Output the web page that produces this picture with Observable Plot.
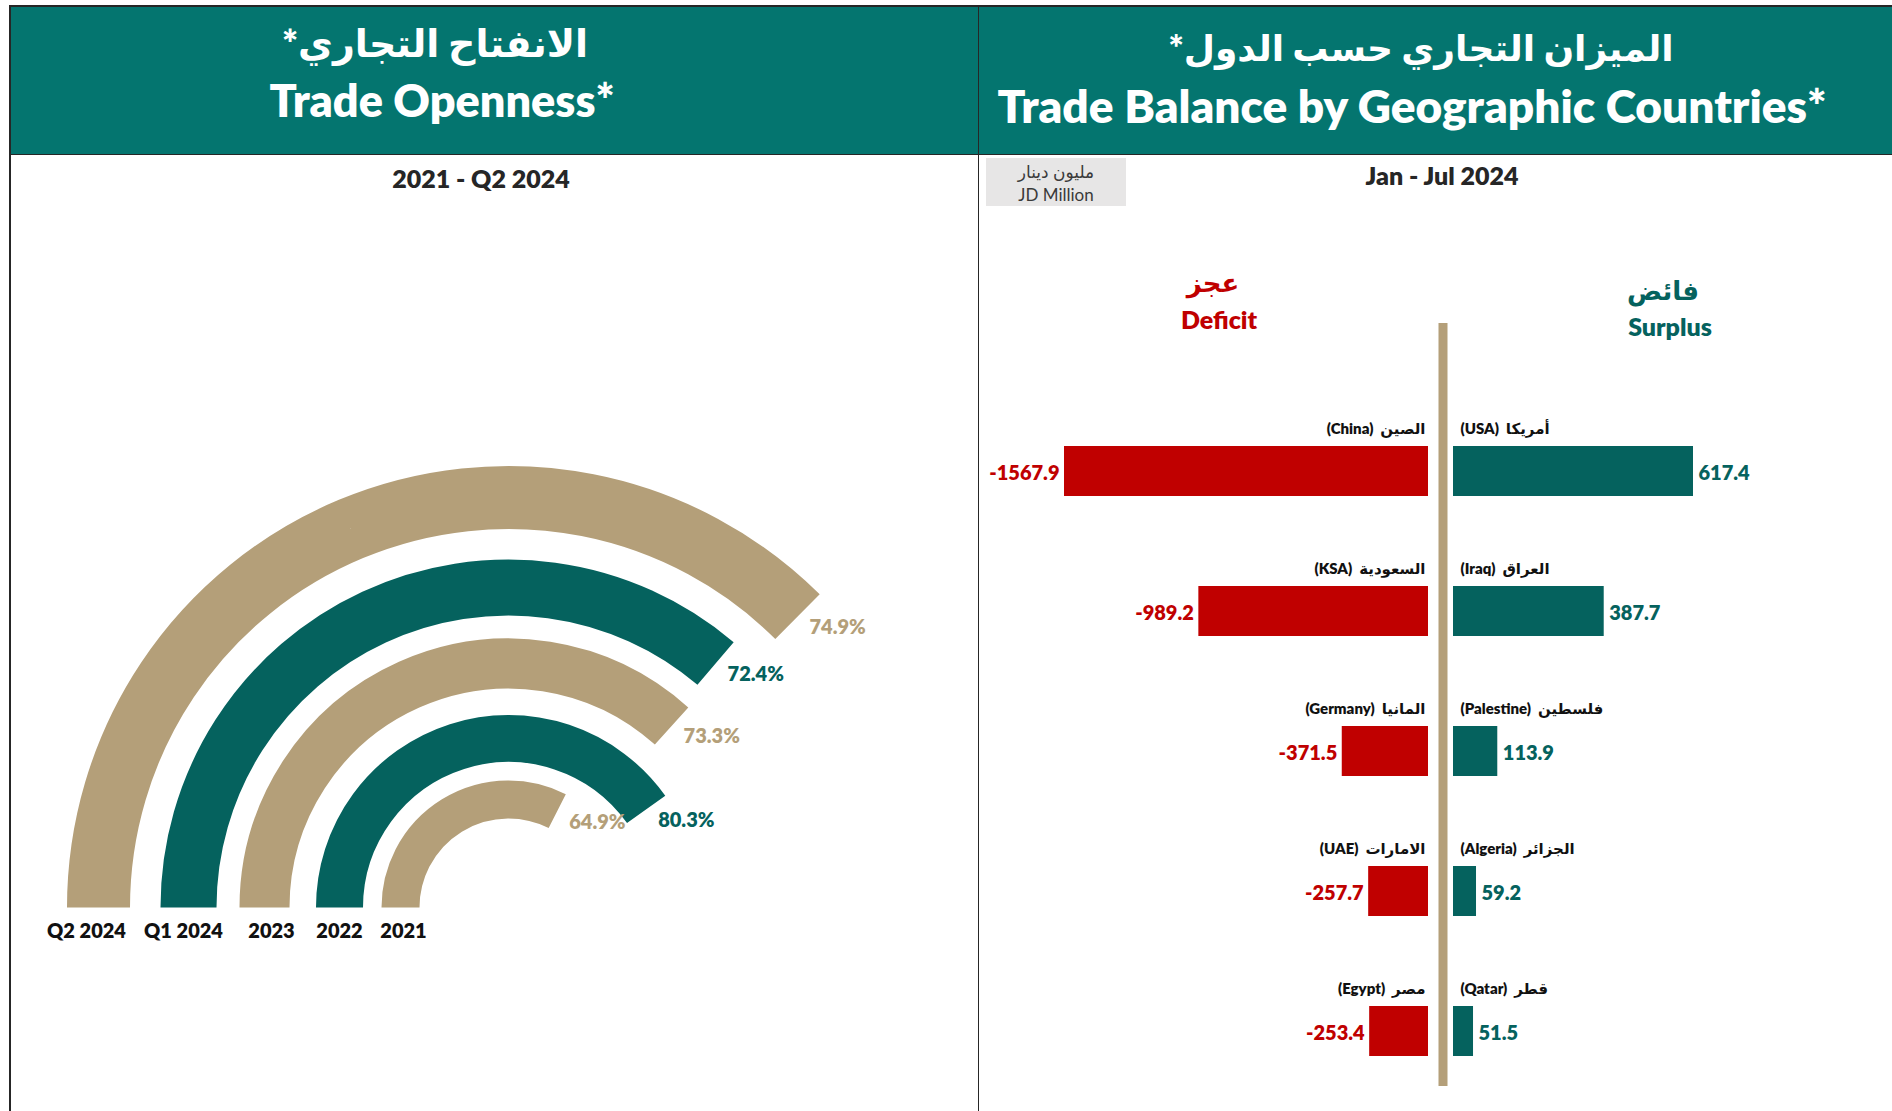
<!DOCTYPE html>
<html>
<head>
<meta charset="utf-8">
<script src="https://cdn.jsdelivr.net/npm/d3@7"></script>
<script src="https://cdn.jsdelivr.net/npm/@observablehq/plot@0.6"></script>
<style>
  html, body { margin: 0; padding: 0; background: #fff; }
  #page { position: relative; width: 1892px; height: 1111px; overflow: hidden; font-family: Lato, "DejaVu Sans", sans-serif; }
  .abs { position: absolute; }
  .line { position: absolute; background: #262626; }
  .t { position: absolute; white-space: nowrap; line-height: 1; transform: translate(-50%, -50%); font-weight: 800; }
  .plotbox { position: absolute; }
</style>
</head>
<body>
<div id="page">
  <div class="abs" style="left:10px;top:6px;width:1882px;height:148px;background:#04756F;"></div>
  <div class="line" style="left:9px;top:5px;width:1883px;height:1.5px;"></div>
  <div class="line" style="left:9px;top:5px;width:1.5px;height:1106px;"></div>
  <div class="line" style="left:9px;top:153.5px;width:1883px;height:1.5px;"></div>
  <div class="line" style="left:977.5px;top:5px;width:1.5px;height:1106px;"></div>

  <div class="t" dir="rtl" style="left:435px;top:42px;font-size:38px;color:#fff;">الانفتاح التجاري*</div>
  <div class="t" style="left:442px;top:100px;font-size:45px;color:#fff;">Trade Openness*</div>
  <div class="t" dir="rtl" style="left:1421px;top:47px;font-size:36px;color:#fff;">الميزان التجاري حسب الدول*</div>
  <div class="t" style="left:1412px;top:106px;font-size:46px;color:#fff;">Trade Balance by Geographic Countries*</div>

  <div class="t" style="left:481px;top:178px;font-size:25px;color:#262626;">2021 - Q2 2024</div>
  <div class="t" style="left:1442px;top:175px;font-size:25px;color:#262626;">Jan - Jul 2024</div>

  <div class="abs" style="left:986px;top:158px;width:140px;height:48px;background:#E7E6E6;"></div>
  <div class="t" dir="rtl" style="left:1056px;top:171px;font-size:17px;font-weight:normal;color:#3a3a3a;">مليون دينار</div>
  <div class="t" style="left:1056px;top:194px;font-size:17px;font-weight:normal;color:#3a3a3a;">JD Million</div>

  <div class="t" dir="rtl" style="left:1213px;top:282px;font-size:26px;color:#C00000;">عجز</div>
  <div class="t" style="left:1219px;top:319px;font-size:25px;color:#C00000;">Deficit</div>
  <div class="t" dir="rtl" style="left:1663px;top:290px;font-size:26px;color:#05625E;">فائض</div>
  <div class="t" style="left:1670px;top:326px;font-size:25px;color:#05625E;">Surplus</div>

  <div id="arcs" class="plotbox" style="left:10px;top:160px;"></div>
  <div id="deficit" class="plotbox" style="left:980px;top:300px;"></div>
  <div id="surplus" class="plotbox" style="left:1430px;top:300px;"></div>
</div>
<script>
// ---------- Data ----------
const periods = ["Q2 2024", "Q1 2024", "2023", "2022", "2021"];
const openness = [74.9, 72.4, 73.3, 80.3, 64.9];

const deficitCountries = ["China", "KSA", "Germany", "UAE", "Egypt"];
const deficitArabic = ["الصين", "السعودية", "المانيا", "الامارات", "مصر"];
const deficitValues = [-1567.9, -989.2, -371.5, -257.7, -253.4];

const surplusCountries = ["USA", "Iraq", "Palestine", "Algeria", "Qatar"];
const surplusArabic = ["أمريكا", "العراق", "فلسطين", "الجزائر", "قطر"];
const surplusValues = [617.4, 387.7, 113.9, 59.2, 51.5];

// ---------- Styles / layout ----------
const TAN = "#B49F79", TEAL = "#05625E", RED = "#C00000";
const FONT = "Lato, 'DejaVu Sans', sans-serif";
const BOLD = 800;
const ringRadius = [410, 320, 244, 169, 108];   // px, layout only
const ringWidth = [63, 56, 50, 47, 38];         // px, layout only
const labelShift = [-12, -5, 7, 0, 3];          // px, layout only
const ringColor = i => (i % 2 === 0 ? TAN : TEAL);

// ---------- Trade openness (radial arcs) ----------
const angle = d3.scaleLinear([0, 100], [0, 180]); // % of a half circle
const rows = periods.map((p, i) => {
  const sweep = angle(openness[i]);
  const a = (sweep - 90) * Math.PI / 180;
  const r = ringRadius[i];
  return {period: p, value: openness[i], i, sweep, r, w: ringWidth[i],
          ex: r * Math.sin(a), ey: r * Math.cos(a)};
});

const arcMarks = rows.map(d => Plot.arrow([d], {
  x1: v => -v.r, y1: () => 0, x2: "ex", y2: "ey",
  bend: d.sweep / 2, headLength: 0,
  stroke: ringColor(d.i), strokeWidth: d.w, strokeLinecap: "butt", strokeOpacity: 1
}));

const arcs = Plot.plot({
  width: 960, height: 860, margin: 0,
  x: {domain: [-498, 462], axis: null},
  y: {domain: [-113, 747], axis: null},
  style: {fontFamily: FONT, background: "transparent", overflow: "visible"},
  marks: [
    ...arcMarks,
    Plot.text(rows.filter(d => d.i % 2 === 0), {x: "ex", y: "ey", text: d => d.value.toFixed(1) + "%",
      textAnchor: "start", dx: 12, dy: 11, fill: TAN, fontSize: 20, fontWeight: BOLD}),
    Plot.text(rows.filter(d => d.i % 2 === 1), {x: "ex", y: "ey", text: d => d.value.toFixed(1) + "%",
      textAnchor: "start", dx: 12, dy: 11, fill: TEAL, fontSize: 20, fontWeight: BOLD}),
    ...rows.map(d => Plot.text([d], {x: v => -v.r, y: () => 0, text: "period", dy: 24, dx: labelShift[d.i],
      fill: "#111", fontSize: 20, fontWeight: BOLD}))
  ]
});
document.getElementById("arcs").appendChild(arcs);

// ---------- Trade balance ----------
const deficitRows = deficitCountries.map((c, i) => ({name: c, label: `(${c})  ${deficitArabic[i]}`, value: deficitValues[i]}));
const surplusRows = surplusCountries.map((c, i) => ({name: c, label: `(${c})  ${surplusArabic[i]}`, value: surplusValues[i]}));

const yDef = {type: "band", range: [146, 756], paddingInner: 0.643, paddingOuter: 0, axis: null};

const deficit = Plot.plot({
  width: 462, height: 800, marginTop: 23, marginBottom: 14, marginLeft: 0, marginRight: 0,
  x: {domain: [d3.min(deficitValues), 0], range: [84, 448], axis: null},
  y: {...yDef, domain: deficitCountries},
  style: {fontFamily: FONT, background: "transparent", overflow: "visible"},
  marks: [
    Plot.barX(deficitRows, {x1: () => 0, x2: "value", y: "name", fill: RED}),
    Plot.text(deficitRows, {x: "value", y: "name", text: d => d.value.toFixed(1), textAnchor: "end",
      dx: -5, dy: 2, fill: RED, fontSize: 20, fontWeight: BOLD}),
    Plot.text(deficitRows, {x: () => 0, y: "name", text: "label", textAnchor: "end",
      dx: -3, dy: -42, fill: "#111", fontSize: 15, fontWeight: BOLD})
  ]
});
document.getElementById("deficit").appendChild(deficit);

const surplus = Plot.plot({
  width: 462, height: 800, marginTop: 23, marginBottom: 14, marginLeft: 0, marginRight: 0,
  x: {domain: [0, d3.max(surplusValues)], range: [23, 263], axis: null},
  y: {...yDef, domain: surplusCountries},
  style: {fontFamily: FONT, background: "transparent", overflow: "visible"},
  marks: [
    Plot.ruleX([0], {stroke: TAN, strokeWidth: 9, dx: -10.5}),
    Plot.barX(surplusRows, {x1: () => 0, x2: "value", y: "name", fill: TEAL}),
    Plot.text(surplusRows, {x: "value", y: "name", text: d => d.value.toFixed(1), textAnchor: "start",
      dx: 5, dy: 2, fill: TEAL, fontSize: 20, fontWeight: BOLD}),
    Plot.text(surplusRows, {x: () => 0, y: "name", text: "label", textAnchor: "start",
      dx: 7, dy: -42, fill: "#111", fontSize: 15, fontWeight: BOLD})
  ]
});
document.getElementById("surplus").appendChild(surplus);
</script>
</body>
</html>
